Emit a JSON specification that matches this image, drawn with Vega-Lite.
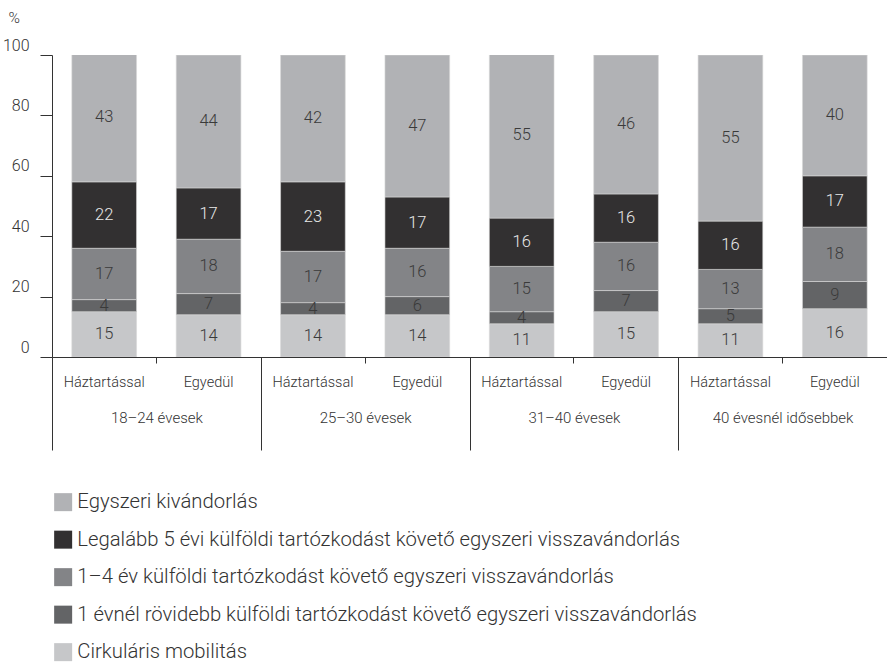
{
  "$schema": "https://vega.github.io/schema/vega-lite/v6.json",
  "width": 835,
  "height": 302,
  "autosize": "none",
  "padding": {"left": 52, "top": 55, "right": 0, "bottom": 308},
  "background": "white",
  "config": {
    "font": "Roboto",
    "view": {"stroke": null}
  },
  "data": {
    "values": [
      {"group": "18–24 évesek", "sub": "Háztartással", "bar": "18–24 évesek|Háztartással", "cat": "Cirkuláris mobilitás", "order": 1, "value": 15},
      {"group": "18–24 évesek", "sub": "Háztartással", "bar": "18–24 évesek|Háztartással", "cat": "1 évnél rövidebb külföldi tartózkodást követő egyszeri visszavándorlás", "order": 2, "value": 4},
      {"group": "18–24 évesek", "sub": "Háztartással", "bar": "18–24 évesek|Háztartással", "cat": "1–4 év külföldi tartózkodást követő egyszeri visszavándorlás", "order": 3, "value": 17},
      {"group": "18–24 évesek", "sub": "Háztartással", "bar": "18–24 évesek|Háztartással", "cat": "Legalább 5 évi külföldi tartózkodást követő egyszeri visszavándorlás", "order": 4, "value": 22},
      {"group": "18–24 évesek", "sub": "Háztartással", "bar": "18–24 évesek|Háztartással", "cat": "Egyszeri kivándorlás", "order": 5, "value": 43},

      {"group": "18–24 évesek", "sub": "Egyedül", "bar": "18–24 évesek|Egyedül", "cat": "Cirkuláris mobilitás", "order": 1, "value": 14},
      {"group": "18–24 évesek", "sub": "Egyedül", "bar": "18–24 évesek|Egyedül", "cat": "1 évnél rövidebb külföldi tartózkodást követő egyszeri visszavándorlás", "order": 2, "value": 7},
      {"group": "18–24 évesek", "sub": "Egyedül", "bar": "18–24 évesek|Egyedül", "cat": "1–4 év külföldi tartózkodást követő egyszeri visszavándorlás", "order": 3, "value": 18},
      {"group": "18–24 évesek", "sub": "Egyedül", "bar": "18–24 évesek|Egyedül", "cat": "Legalább 5 évi külföldi tartózkodást követő egyszeri visszavándorlás", "order": 4, "value": 17},
      {"group": "18–24 évesek", "sub": "Egyedül", "bar": "18–24 évesek|Egyedül", "cat": "Egyszeri kivándorlás", "order": 5, "value": 44},

      {"group": "25–30 évesek", "sub": "Háztartással", "bar": "25–30 évesek|Háztartással", "cat": "Cirkuláris mobilitás", "order": 1, "value": 14},
      {"group": "25–30 évesek", "sub": "Háztartással", "bar": "25–30 évesek|Háztartással", "cat": "1 évnél rövidebb külföldi tartózkodást követő egyszeri visszavándorlás", "order": 2, "value": 4},
      {"group": "25–30 évesek", "sub": "Háztartással", "bar": "25–30 évesek|Háztartással", "cat": "1–4 év külföldi tartózkodást követő egyszeri visszavándorlás", "order": 3, "value": 17},
      {"group": "25–30 évesek", "sub": "Háztartással", "bar": "25–30 évesek|Háztartással", "cat": "Legalább 5 évi külföldi tartózkodást követő egyszeri visszavándorlás", "order": 4, "value": 23},
      {"group": "25–30 évesek", "sub": "Háztartással", "bar": "25–30 évesek|Háztartással", "cat": "Egyszeri kivándorlás", "order": 5, "value": 42},

      {"group": "25–30 évesek", "sub": "Egyedül", "bar": "25–30 évesek|Egyedül", "cat": "Cirkuláris mobilitás", "order": 1, "value": 14},
      {"group": "25–30 évesek", "sub": "Egyedül", "bar": "25–30 évesek|Egyedül", "cat": "1 évnél rövidebb külföldi tartózkodást követő egyszeri visszavándorlás", "order": 2, "value": 6},
      {"group": "25–30 évesek", "sub": "Egyedül", "bar": "25–30 évesek|Egyedül", "cat": "1–4 év külföldi tartózkodást követő egyszeri visszavándorlás", "order": 3, "value": 16},
      {"group": "25–30 évesek", "sub": "Egyedül", "bar": "25–30 évesek|Egyedül", "cat": "Legalább 5 évi külföldi tartózkodást követő egyszeri visszavándorlás", "order": 4, "value": 17},
      {"group": "25–30 évesek", "sub": "Egyedül", "bar": "25–30 évesek|Egyedül", "cat": "Egyszeri kivándorlás", "order": 5, "value": 47},

      {"group": "31–40 évesek", "sub": "Háztartással", "bar": "31–40 évesek|Háztartással", "cat": "Cirkuláris mobilitás", "order": 1, "value": 11},
      {"group": "31–40 évesek", "sub": "Háztartással", "bar": "31–40 évesek|Háztartással", "cat": "1 évnél rövidebb külföldi tartózkodást követő egyszeri visszavándorlás", "order": 2, "value": 4},
      {"group": "31–40 évesek", "sub": "Háztartással", "bar": "31–40 évesek|Háztartással", "cat": "1–4 év külföldi tartózkodást követő egyszeri visszavándorlás", "order": 3, "value": 15},
      {"group": "31–40 évesek", "sub": "Háztartással", "bar": "31–40 évesek|Háztartással", "cat": "Legalább 5 évi külföldi tartózkodást követő egyszeri visszavándorlás", "order": 4, "value": 16},
      {"group": "31–40 évesek", "sub": "Háztartással", "bar": "31–40 évesek|Háztartással", "cat": "Egyszeri kivándorlás", "order": 5, "value": 55},

      {"group": "31–40 évesek", "sub": "Egyedül", "bar": "31–40 évesek|Egyedül", "cat": "Cirkuláris mobilitás", "order": 1, "value": 15},
      {"group": "31–40 évesek", "sub": "Egyedül", "bar": "31–40 évesek|Egyedül", "cat": "1 évnél rövidebb külföldi tartózkodást követő egyszeri visszavándorlás", "order": 2, "value": 7},
      {"group": "31–40 évesek", "sub": "Egyedül", "bar": "31–40 évesek|Egyedül", "cat": "1–4 év külföldi tartózkodást követő egyszeri visszavándorlás", "order": 3, "value": 16},
      {"group": "31–40 évesek", "sub": "Egyedül", "bar": "31–40 évesek|Egyedül", "cat": "Legalább 5 évi külföldi tartózkodást követő egyszeri visszavándorlás", "order": 4, "value": 16},
      {"group": "31–40 évesek", "sub": "Egyedül", "bar": "31–40 évesek|Egyedül", "cat": "Egyszeri kivándorlás", "order": 5, "value": 46},

      {"group": "40 évesnél idősebbek", "sub": "Háztartással", "bar": "40 évesnél idősebbek|Háztartással", "cat": "Cirkuláris mobilitás", "order": 1, "value": 11},
      {"group": "40 évesnél idősebbek", "sub": "Háztartással", "bar": "40 évesnél idősebbek|Háztartással", "cat": "1 évnél rövidebb külföldi tartózkodást követő egyszeri visszavándorlás", "order": 2, "value": 5},
      {"group": "40 évesnél idősebbek", "sub": "Háztartással", "bar": "40 évesnél idősebbek|Háztartással", "cat": "1–4 év külföldi tartózkodást követő egyszeri visszavándorlás", "order": 3, "value": 13},
      {"group": "40 évesnél idősebbek", "sub": "Háztartással", "bar": "40 évesnél idősebbek|Háztartással", "cat": "Legalább 5 évi külföldi tartózkodást követő egyszeri visszavándorlás", "order": 4, "value": 16},
      {"group": "40 évesnél idősebbek", "sub": "Háztartással", "bar": "40 évesnél idősebbek|Háztartással", "cat": "Egyszeri kivándorlás", "order": 5, "value": 55},

      {"group": "40 évesnél idősebbek", "sub": "Egyedül", "bar": "40 évesnél idősebbek|Egyedül", "cat": "Cirkuláris mobilitás", "order": 1, "value": 16},
      {"group": "40 évesnél idősebbek", "sub": "Egyedül", "bar": "40 évesnél idősebbek|Egyedül", "cat": "1 évnél rövidebb külföldi tartózkodást követő egyszeri visszavándorlás", "order": 2, "value": 9},
      {"group": "40 évesnél idősebbek", "sub": "Egyedül", "bar": "40 évesnél idősebbek|Egyedül", "cat": "1–4 év külföldi tartózkodást követő egyszeri visszavándorlás", "order": 3, "value": 18},
      {"group": "40 évesnél idősebbek", "sub": "Egyedül", "bar": "40 évesnél idősebbek|Egyedül", "cat": "Legalább 5 évi külföldi tartózkodást követő egyszeri visszavándorlás", "order": 4, "value": 17},
      {"group": "40 évesnél idősebbek", "sub": "Egyedül", "bar": "40 évesnél idősebbek|Egyedül", "cat": "Egyszeri kivándorlás", "order": 5, "value": 40}
    ]
  },
  "layer": [
    {
      "layer": [
        {
          "mark": {"type": "bar", "clip": true, "stroke": "#d8d8d8", "strokeWidth": 0.6},
          "encoding": {
            "x": {
              "field": "bar", "type": "nominal", "sort": null,
              "scale": {"paddingInner": 0.38, "paddingOuter": 0.19},
              "axis": {
                "orient": "bottom", "title": null,
                "labelExpr": "split(datum.label, '|')[1]",
                "labelAngle": 0, "labelOverlap": false,
                "ticks": false,
                "domainColor": "#333333",
                "labelFontSize": 14.5, "labelFontWeight": 300, "labelColor": "#333333", "labelPadding": 18
              }
            },
            "y": {
              "field": "value", "type": "quantitative", "stack": "zero",
              "scale": {"domain": [0, 100]},
              "axis": {
                "title": "%", "titleAngle": 0, "titleAlign": "left", "titleBaseline": "middle",
                "titleX": -44, "titleY": -38, "titleFontSize": 15.5, "titleFontWeight": 300,
                "titleColor": "#333333",
                "values": [0, 20, 40, 60, 80, 100], "tickSize": 12,
                "labelPadding": 11, "labelOffset": -10, "labelFontSize": 16, "labelFontWeight": 300,
                "labelColor": "#333333", "grid": false,
                "domainColor": "#333333", "tickColor": "#333333"
              }
            },
            "color": {
              "field": "cat", "type": "nominal",
              "scale": {
                "domain": [
                  "Egyszeri kivándorlás",
                  "Legalább 5 évi külföldi tartózkodást követő egyszeri visszavándorlás",
                  "1–4 év külföldi tartózkodást követő egyszeri visszavándorlás",
                  "1 évnél rövidebb külföldi tartózkodást követő egyszeri visszavándorlás",
                  "Cirkuláris mobilitás"
                ],
                "range": ["#b1b2b5", "#323031", "#838487", "#636466", "#c6c7c9"]
              },
              "legend": {
                "orient": "none", "legendX": 1, "legendY": 437,
                "direction": "vertical", "title": null, "padding": 0,
                "symbolType": "square", "symbolSize": 324, "symbolStrokeWidth": 0,
                "labelFontSize": 20.3, "labelFontWeight": 300, "labelColor": "#333333",
                "rowPadding": 16.5, "labelOffset": 4, "labelLimit": 900
              }
            },
            "order": {"field": "order", "type": "quantitative"}
          }
        },
        {
          "mark": {"type": "text", "fontSize": 16.5, "fontWeight": 300, "baseline": "middle"},
          "encoding": {
            "x": {"field": "bar", "type": "nominal", "sort": null},
            "y": {"field": "value", "type": "quantitative", "stack": "zero", "bandPosition": 0.5},
            "text": {"field": "value", "type": "quantitative"},
            "order": {"field": "order", "type": "quantitative"},
            "color": {
              "condition": {"test": "datum.order === 4", "value": "#e8e8e8"},
              "value": "#3a3a3a"
            }
          }
        }
      ]
    },
    {
      "mark": {"type": "rule", "opacity": 0},
      "encoding": {
        "x": {
          "field": "group", "type": "nominal", "sort": null,
          "scale": {"paddingInner": 0, "paddingOuter": 0},
          "axis": {
            "orient": "bottom", "title": null, "domain": false,
            "tickBand": "extent", "tickSize": 93, "tickColor": "#333333",
            "labelPadding": -40, "labelFontSize": 15, "labelFontWeight": 300, "labelColor": "#333333",
            "labelAngle": 0, "labelOverlap": false
          }
        }
      }
    },
    {
      "mark": {"type": "rule", "opacity": 0},
      "encoding": {
        "x": {
          "field": "group", "type": "nominal", "sort": null,
          "scale": {"paddingInner": 0, "paddingOuter": 0},
          "axis": {
            "orient": "bottom", "title": null, "domain": false, "labels": false,
            "tickSize": 6, "tickColor": "#333333"
          }
        }
      }
    }
  ],
  "resolve": {"scale": {"x": "independent"}, "axis": {"x": "independent"}}
}
